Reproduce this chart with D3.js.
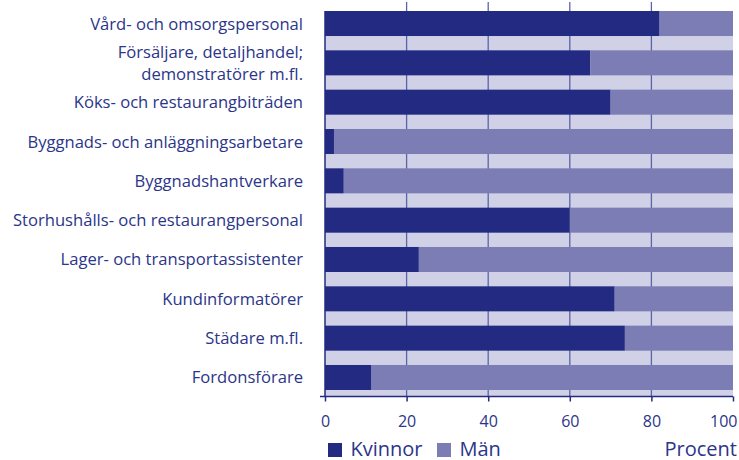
<!DOCTYPE html>
<html>
<head>
<meta charset="utf-8">
<script src="https://cdn.jsdelivr.net/npm/d3@7"></script>
<style>
  html, body { margin: 0; padding: 0; background: #fff; }
  svg { display: block; }
  text { font-family: "Open Sans", "Noto Sans", sans-serif; fill: #2b3589; font-weight: 500; }
</style>
</head>
<body>
<svg id="chart" width="739" height="460"></svg>
<script>
const categories = [
  "Vård- och omsorgspersonal",
  "Försäljare, detaljhandel;\ndemonstratörer m.fl.",
  "Köks- och restaurangbiträden",
  "Byggnads- och anläggningsarbetare",
  "Byggnadshantverkare",
  "Storhushålls- och restaurangpersonal",
  "Lager- och transportassistenter",
  "Kundinformatörer",
  "Städare m.fl.",
  "Fordonsförare"
];
const kvinnor = [82, 65, 70, 2.2, 4.6, 60, 23, 71, 73.5, 11.4];
const man = kvinnor.map(v => 100 - v);
const tickValues = [0, 20, 40, 60, 80, 100];
const seriesNames = ["Kvinnor", "Män"];
const colors = ["#222b81", "#7d7db5"];

const svg = d3.select("#chart");
const x = d3.scaleLinear().domain([0, 100]).range([325, 733]);
const y = d3.scaleBand().domain(categories).range([11, 390]).paddingInner(0.364).paddingOuter(0);

// background panel
svg.append("rect")
  .attr("x", x(0)).attr("y", y.range()[0])
  .attr("width", x(100) - x(0)).attr("height", 396 - y.range()[0])
  .attr("fill", "#d0d0e6");

// gridlines
svg.append("g").selectAll("line")
  .data(tickValues.filter(d => d > 0 && d < 100))
  .join("line")
  .attr("x1", d => x(d)).attr("x2", d => x(d))
  .attr("y1", 2).attr("y2", 396)
  .attr("stroke", "#5b63ab").attr("stroke-width", 1.3);

// stacked bars
const rows = categories.map((c, i) => ({ cat: c, Kvinnor: kvinnor[i], "Män": man[i] }));
const stack = d3.stack().keys(seriesNames)(rows);
svg.append("g").selectAll("g")
  .data(stack).join("g")
  .attr("fill", (d, i) => colors[i])
  .selectAll("rect")
  .data(d => d).join("rect")
  .attr("x", d => x(d[0]))
  .attr("y", d => y(d.data.cat))
  .attr("width", d => x(d[1]) - x(d[0]))
  .attr("height", y.bandwidth());

// y axis line
svg.append("line")
  .attr("x1", x(0)).attr("x2", x(0))
  .attr("y1", y.range()[0]).attr("y2", 396.5)
  .attr("stroke", "#222b81").attr("stroke-width", 1.5);

// x axis
const xAxis = d3.axisBottom(x).tickValues(tickValues).tickSize(5).tickFormat(d3.format("d"));
const gx = svg.append("g").attr("transform", "translate(0,396.5)").call(xAxis);
gx.select(".domain").attr("d", `M320,0H${x(100)}`).attr("stroke", "#222b81").attr("stroke-width", 1.5);
gx.selectAll(".tick line").attr("stroke", "#222b81").attr("stroke-width", 1.5);
gx.selectAll(".tick text")
  .style("font-family", '"Open Sans", sans-serif')
  .style("font-weight", 500)
  .attr("font-size", 16)
  .attr("fill", "#2b3589")
  .attr("y", 30.5).attr("dy", 0)
  .attr("text-anchor", d => d === 100 ? "end" : "middle")
  .attr("x", d => d === 100 ? 4 : 0);

// category labels
const lh = 22;
const labels = svg.append("g").selectAll("text")
  .data(categories).join("text")
  .attr("text-anchor", "end")
  .attr("font-size", 16.6)
  .attr("x", 303)
  .attr("y", d => y(d) + y.bandwidth() / 2);
labels.each(function(d) {
  const lines = d.split("\n");
  const t = d3.select(this);
  lines.forEach((ln, j) => {
    t.append("tspan")
      .attr("x", 303)
      .attr("dy", j === 0 ? ((-(lines.length - 1) * lh) / 2 + 6) : lh)
      .text(ln);
  });
});

// legend
const legend = svg.append("g");
const legendX = [328, 437];
seriesNames.forEach((s, i) => {
  legend.append("rect").attr("x", legendX[i]).attr("y", 443).attr("width", 14).attr("height", 14).attr("fill", colors[i]);
  legend.append("text").attr("x", legendX[i] + 22.5).attr("y", 455.5).attr("font-size", 20).text(s);
});
svg.append("text").attr("x", 737).attr("y", 455.5).attr("text-anchor", "end").attr("font-size", 20).text("Procent");
</script>
</body>
</html>
